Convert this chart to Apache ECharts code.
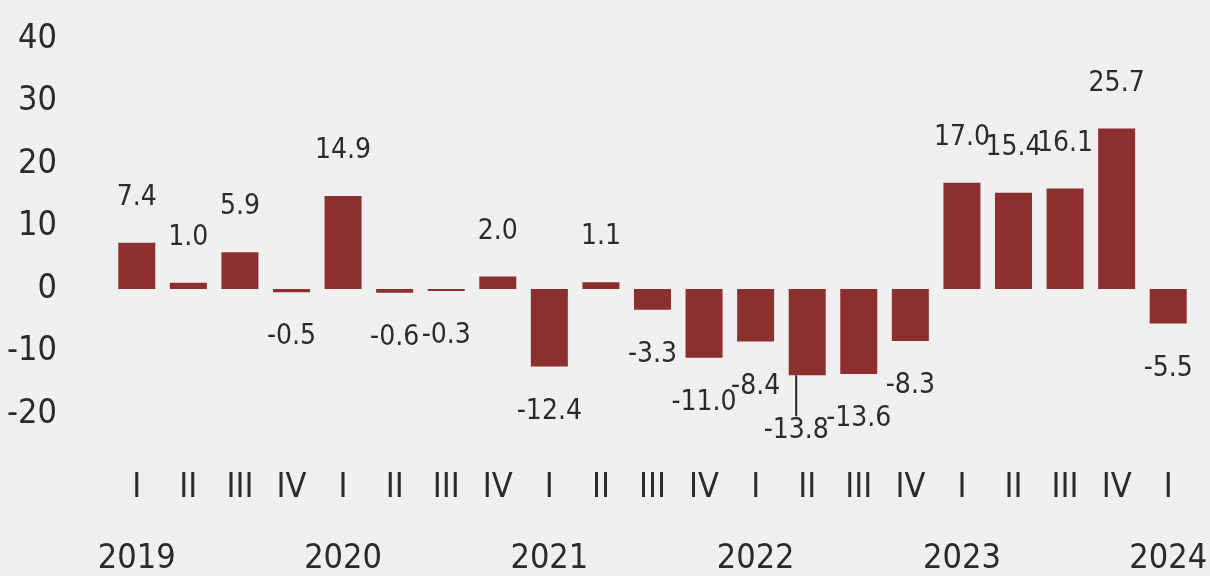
<!DOCTYPE html>
<html>
<head>
<meta charset="utf-8">
<script src="https://cdn.jsdelivr.net/npm/echarts@6/dist/echarts.min.js"></script>
<style>
  html, body { margin: 0; padding: 0; background: #f0f0f0; }
  #chart { width: 1210px; height: 576px; }
</style>
</head>
<body>
<div id="chart"></div>
<script>
// quarterly change, 2019 I .. 2024 I
const quarters = ["I", "II", "III", "IV", "I", "II", "III", "IV", "I", "II", "III", "IV",
  "I", "II", "III", "IV", "I", "II", "III", "IV", "I"];
const years = ["2019", "", "", "", "2020", "", "", "", "2021", "", "", "",
  "2022", "", "", "", "2023", "", "", "", "2024"];
const values = [7.4, 1.0, 5.9, -0.5, 14.9, -0.6, -0.3, 2.0, -12.4, 1.1, -3.3, -11.0,
  -8.4, -13.8, -13.6, -8.3, 17.0, 15.4, 16.1, 25.7, -5.5];
const yTicks = [-20, 40, 10]; // min, max, step

const font = '"Liberation Sans Narrow", "DejaVu Sans Condensed", "Arial Narrow", sans-serif';
const textColor = "#2b2b2b";
const barColor = "#8c2f2f";

let myChart = echarts.init(document.getElementById("chart"));

const seriesData = values.map(function (v, i) {
  let item = {
    value: v,
    label: { position: v < 0 ? "bottom" : "top" },
  };
  // the -13.8 label is pushed down with a small leader line
  if (i === 13) {
    item.labelLine = { show: true, lineStyle: { color: "#222", width: 2 } };
  }
  return item;
});

let option = {
  backgroundColor: "#f0f0f0",
  animation: false,
  grid: {
    left: 111,
    right: 11,
    top: 39,
    bottom: 162,
  },
  xAxis: [
    {
      type: "category",
      data: quarters,
      position: "bottom",
      axisLine: { show: false, onZero: false },
      axisTick: { show: false },
      axisLabel: {
        interval: 0,
        margin: 57,
        fontFamily: font,
        fontSize: 34,
        color: textColor,
      },
    },
    {
      type: "category",
      data: years,
      position: "bottom",
      axisLine: { show: false, onZero: false },
      axisTick: { show: false },
      axisLabel: {
        interval: 0,
        margin: 128,
        fontFamily: font,
        fontSize: 34,
        color: textColor,
      },
    },
  ],
  yAxis: {
    type: "value",
    min: yTicks[0],
    max: yTicks[1],
    interval: yTicks[2],
    splitLine: { show: false },
    axisLine: { show: false },
    axisTick: { show: false },
    axisLabel: {
      margin: 54,
      fontFamily: font,
      fontSize: 34,
      color: textColor,
    },
  },
  series: [
    {
      type: "bar",
      barWidth: 37,
      data: seriesData,
      itemStyle: { color: barColor },
      label: {
        show: true,
        distance: 31,
        fontFamily: font,
        fontSize: 28,
        color: textColor,
        formatter: function (p) {
          return p.value.toFixed(1);
        },
      },
      labelLine: { show: false },
      labelLayout: function (p) {
        if (p.dataIndex === 13) {
          return { dx: -11, dy: 10 };
        }
        return {};
      },
    },
  ],
};

myChart.setOption(option);
</script>
</body>
</html>
